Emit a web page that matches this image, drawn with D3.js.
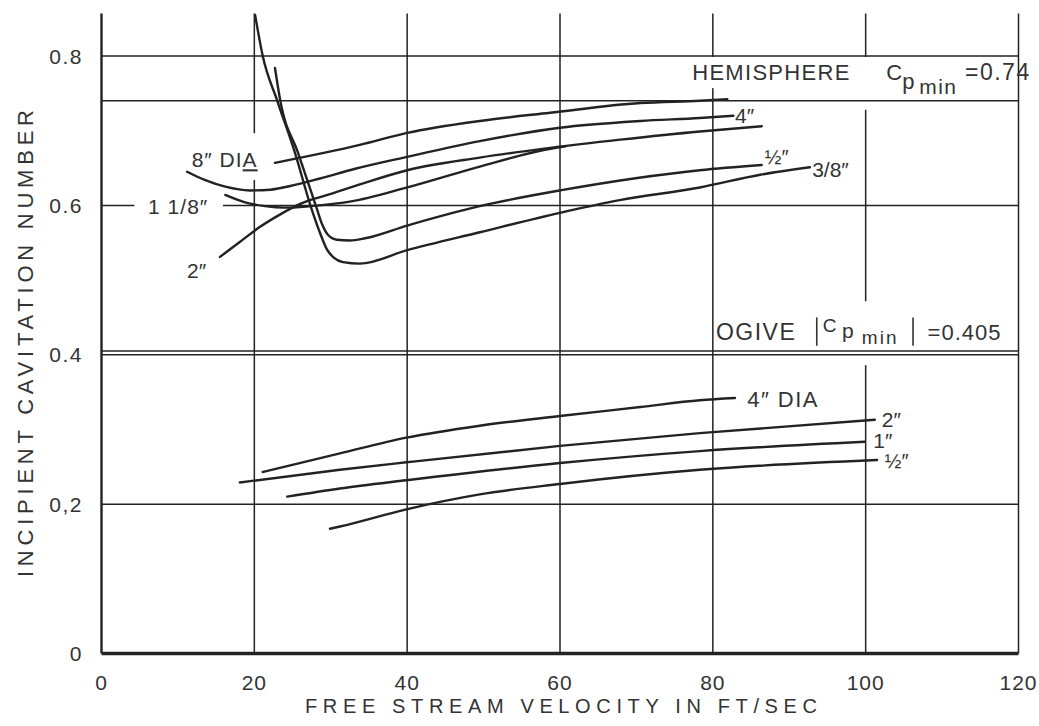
<!DOCTYPE html>
<html>
<head>
<meta charset="utf-8">
<script src="https://cdn.jsdelivr.net/npm/d3@7"></script>
<style>
  html, body { margin: 0; padding: 0; background: #fff; }
  svg { display: block; }
  text { font-family: "Liberation Sans", Arial, Helvetica, sans-serif; fill: #333; }
</style>
</head>
<body>
<svg id="chart" width="1039" height="726"></svg>
<script>
// ---- axis ticks -------------------------------------------------------
const xTickValues = [0, 20, 40, 60, 80, 100, 120];
const xTickLabels = ["0", "20", "40", "60", "80", "100", "120"];
const yTickValues = [0, 0.2, 0.4, 0.6, 0.8];
const yTickLabels = ["0", "0,2", "0.4", "0.6", "0.8"];

// ---- minimum pressure coefficients of the two head forms -------------
const hemisphereCp = 0.74;
const ogiveCp = 0.405;

// ---- hemisphere heads: [velocity ft/s, incipient cavitation number] ---
const hemi8in = [[22.7,0.657],[33.8,0.681],[40.0,0.697],[49.5,0.713],[58.7,0.724],[70.5,0.737],[78.3,0.740],[81.9,0.742]];
const hemi4in = [[11.2,0.645],[13.5,0.634],[16.2,0.625],[19.4,0.620],[22.1,0.621],[24.7,0.626],[28.6,0.636],[33.2,0.649],[40.0,0.665],[49.5,0.686],[60.0,0.704],[70.5,0.713],[78.3,0.717],[82.7,0.720]];
const hemi2in = [[15.5,0.531],[18.1,0.551],[20.7,0.571],[23.4,0.588],[26.0,0.602],[29.9,0.615],[33.8,0.628],[40.0,0.647],[49.5,0.664],[58.7,0.677],[67.9,0.688],[78.3,0.699],[86.4,0.706]];
const hemi118in = [[16.2,0.614],[18.8,0.604],[21.4,0.599],[24.0,0.597],[27.3,0.599],[32.5,0.605],[40.0,0.624],[49.5,0.652],[57.4,0.673],[60.7,0.679]];
const hemiHalfIn = [[22.7,0.784],[23.4,0.740],[25.7,0.671],[28.1,0.598],[28.9,0.574],[29.6,0.561],[30.8,0.554],[32.5,0.553],[34.5,0.556],[40.0,0.573],[49.5,0.599],[60.0,0.620],[78.3,0.647],[86.4,0.654]];
const hemi38in = [[20.1,0.855],[21.1,0.800],[23.0,0.740],[25.3,0.671],[27.4,0.598],[28.6,0.563],[29.5,0.541],[30.4,0.530],[31.6,0.524],[33.8,0.522],[40.0,0.540],[49.5,0.564],[60.0,0.590],[67.8,0.607],[78.3,0.624],[86.2,0.641],[92.7,0.651]];

// ---- ogive heads ------------------------------------------------------
const ogive4in = [[21.1,0.243],[31.2,0.268],[39.9,0.289],[49.5,0.305],[60.0,0.318],[70.5,0.330],[78.3,0.339],[82.9,0.342]];
const ogive2in = [[18.1,0.229],[31.2,0.246],[39.9,0.256],[60.0,0.278],[78.3,0.295],[101.2,0.313]];
const ogive1in = [[24.3,0.210],[31.2,0.221],[39.9,0.232],[60.0,0.255],[78.3,0.271],[99.9,0.2835]];
const ogiveHalfIn = [[29.9,0.167],[31.2,0.170],[39.9,0.193],[49.5,0.213],[60.0,0.227],[78.3,0.246],[101.5,0.259]];

const curves = [hemi8in, hemi4in, hemi2in, hemi118in, hemiHalfIn, hemi38in,
                ogive4in, ogive2in, ogive1in, ogiveHalfIn];

// ---- scales -----------------------------------------------------------
const svg = d3.select("#chart");
const x = d3.scaleLinear().domain([0, 120]).range([101.5, 1018.5]);
const y = d3.scaleLinear().domain([0, 0.8]).range([653.5, 56]);
const yTop = 0.857;           // vertical rules run a little above 0.8

const ink = "#222";

// vertical grid rules
const grid = svg.append("g");
grid.selectAll("line.v")
  .data(xTickValues)
  .join("line")
  .attr("x1", d => x(d)).attr("x2", d => x(d))
  .attr("y1", y(yTop)).attr("y2", y(0))
  .attr("stroke", ink)
  .attr("stroke-width", d => d === 0 ? 2.4 : 1.5);

// white gaps where labels were pasted over the vertical rules
const gaps = [
  { v: 20,  from: 0.698, to: 0.634 },
  { v: 80,  from: 0.800, to: 0.757 },
  { v: 100, from: 0.800, to: 0.728 },
  { v: 100, from: 0.473, to: 0.386 }
];
grid.selectAll("rect.gap")
  .data(gaps)
  .join("rect")
  .attr("x", d => x(d.v) - 3).attr("width", 6)
  .attr("y", d => y(d.from) + 1).attr("height", d => y(d.to) - y(d.from) - 1)
  .attr("fill", "#fff");

// horizontal rules: ticks plus the two Cp_min reference levels
const hLines = yTickValues.concat([hemisphereCp, ogiveCp]);
grid.selectAll("line.h")
  .data(hLines)
  .join("line")
  .attr("x1", x(0)).attr("x2", x(120))
  .attr("y1", d => y(d)).attr("y2", d => y(d))
  .attr("stroke", ink)
  .attr("stroke-width", d => d === 0 ? 3.4 : 1.5);

// ---- tick labels ------------------------------------------------------
svg.append("g").selectAll("text")
  .data(xTickValues)
  .join("text")
  .attr("x", d => x(d)).attr("y", 690)
  .attr("text-anchor", "middle")
  .attr("font-size", 21)
  .attr("letter-spacing", 1)
  .text((d, i) => xTickLabels[i]);

svg.append("g").selectAll("text")
  .data(yTickValues)
  .join("text")
  .attr("x", 83).attr("y", d => y(d) + 7.5)
  .attr("text-anchor", "end")
  .attr("font-size", 21)
  .attr("letter-spacing", 1.5)
  .text((d, i) => yTickLabels[i]);

// axis titles
svg.append("text")
  .attr("x", 305).attr("y", 713)
  .attr("font-size", 20)
  .attr("textLength", 512).attr("lengthAdjust", "spacing")
  .text("FREE STREAM VELOCITY IN FT/SEC");

svg.append("text")
  .attr("transform", "translate(33,577) rotate(-90)")
  .attr("font-size", 22)
  .attr("textLength", 467).attr("lengthAdjust", "spacing")
  .text("INCIPIENT CAVITATION NUMBER");

// ---- label background that breaks the 0.6 rule ------------------------
svg.append("rect")
  .attr("x", x(4.3)).attr("width", x(15.9) - x(4.3))
  .attr("y", y(0.612)).attr("height", y(0.585) - y(0.612))
  .attr("fill", "#fff");

// ---- curves -----------------------------------------------------------
const line = d3.line()
  .x(d => x(d[0])).y(d => y(d[1]))
  .curve(d3.curveMonotoneX);

svg.append("g").selectAll("path")
  .data(curves)
  .join("path")
  .attr("d", line)
  .attr("fill", "none")
  .attr("stroke", ink)
  .attr("stroke-width", 2.4)
  .attr("stroke-linecap", "round")
  .attr("stroke-linejoin", "round");

// ---- curve labels -----------------------------------------------------
const notes = svg.append("g");
function note(t, vx, vy, size, extra) {
  const el = notes.append("text")
    .attr("x", x(vx)).attr("y", y(vy))
    .attr("font-size", size)
    .text(t);
  if (extra) extra(el);
  return el;
}
// hemisphere sizes
const dia8 = notes.append("text")
  .attr("x", x(11.8)).attr("y", y(0.651))
  .attr("font-size", 21).attr("letter-spacing", 1);
dia8.append("tspan").text("8\u2033 DI");
dia8.append("tspan").attr("text-decoration", "underline").text("A");
note("1 1/8\u2033", 6.1, 0.589, 21, e => e.attr("letter-spacing", 1));
note("2\u2033", 11.2, 0.503, 21);
note("4\u2033", 82.9, 0.710, 21);
note("\u00BD\u2033", 86.8, 0.655, 20);
note("3/8\u2033", 93.0, 0.638, 21);

// ogive sizes
note("4\u2033 DIA", 84.5, 0.330, 22, e => e.attr("letter-spacing", 1.5));
note("2\u2033", 102.1, 0.303, 21);
note("1\u2033", 101.0, 0.275, 21);
note("\u00BD\u2033", 102.5, 0.248, 20);

// head-form captions with Cp_min
note("HEMISPHERE", 77.3, 0.768, 22, e => e.attr("letter-spacing", 1.3));
note("C", 102.7, 0.768, 22);
note("p", 104.8, 0.756, 22);
note("min", 107.0, 0.749, 21, e => e.attr("letter-spacing", 1.5));
note("=0.74", 113.0, 0.768, 23, e => e.attr("letter-spacing", 1.5));

note("OGIVE", 80.4, 0.420, 23, e => e.attr("letter-spacing", 1.5));
note("C", 94.4, 0.430, 19);
note("p", 96.9, 0.423, 21);
note("min", 99.5, 0.415, 19, e => e.attr("letter-spacing", 2));
note("=0.405", 108.1, 0.420, 22, e => e.attr("letter-spacing", 1));
// absolute-value bars around Cp_min
notes.selectAll("line.bar")
  .data([93.6, 106.2])
  .join("line")
  .attr("x1", d => x(d)).attr("x2", d => x(d))
  .attr("y1", y(0.45)).attr("y2", y(0.412))
  .attr("stroke", "#333").attr("stroke-width", 1.6);
</script>
</body>
</html>
